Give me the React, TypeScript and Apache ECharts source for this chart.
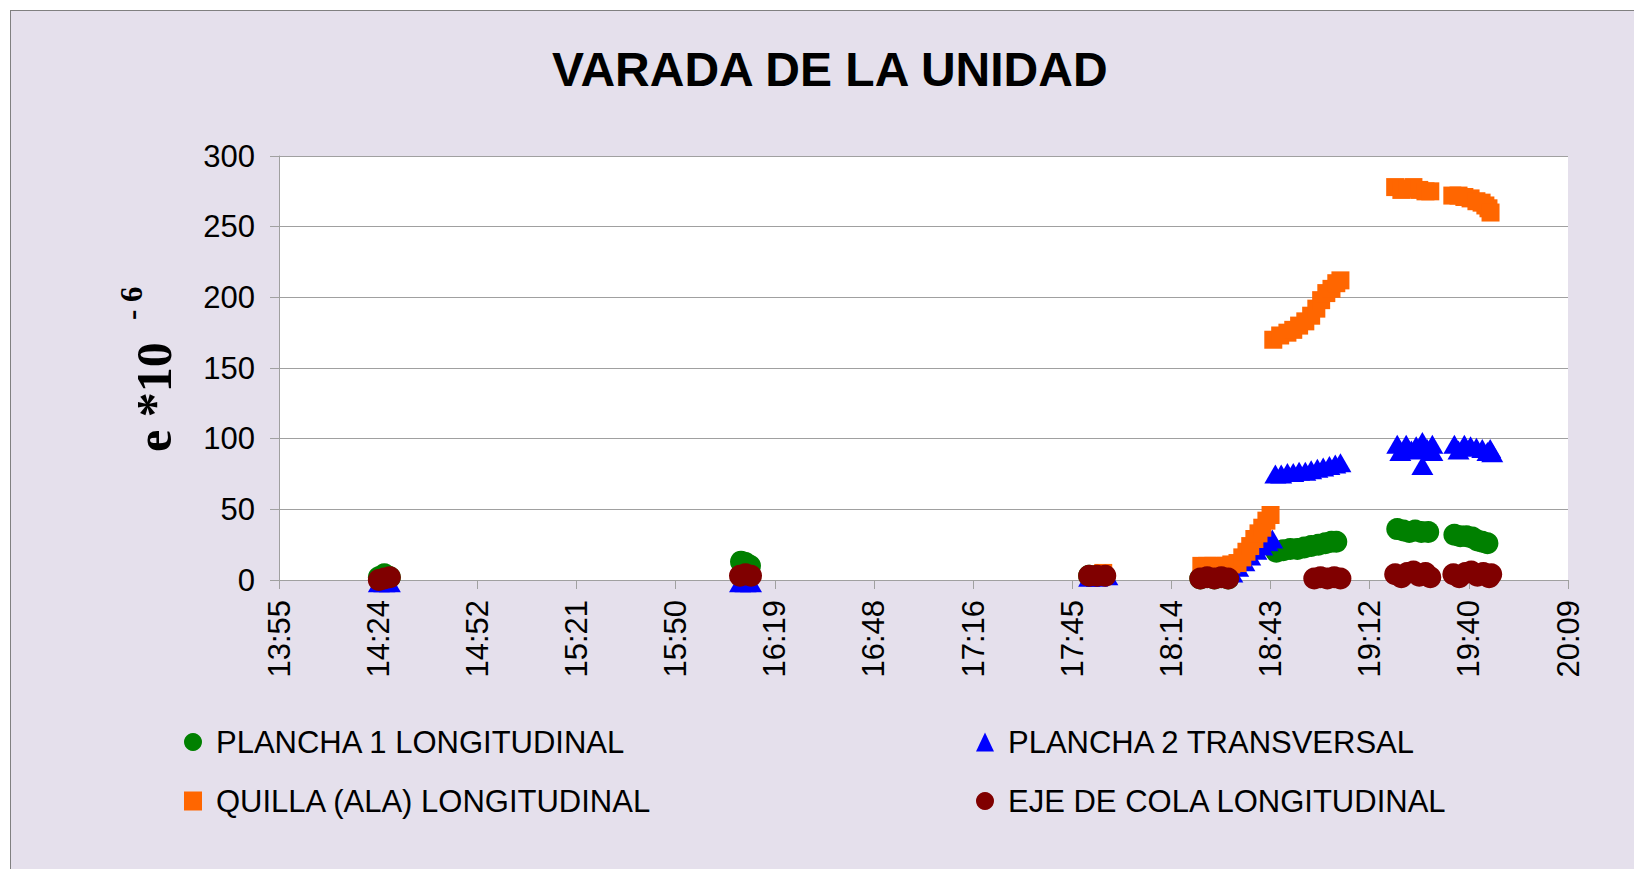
import React, { useEffect, useRef } from "react";
import * as echarts from "echarts";

const TITLE = "VARADA DE LA UNIDAD";
const SERIES_NAMES = [
  "PLANCHA 1 LONGITUDINAL",
  "PLANCHA 2 TRANSVERSAL",
  "QUILLA (ALA) LONGITUDINAL",
  "EJE DE COLA LONGITUDINAL",
];
const AXIS_NAME_MAIN = "e *10";
const AXIS_NAME_SUP = "- 6";

// time axis in minutes after midnight (Excel ticks every 0.02 day = 28.8 min)
const X_MIN = 835.2; // 13:55
const X_MAX = 1209.6; // 20:09
const X_STEP = 28.8;
const Y_MIN = 0;
const Y_MAX = 300;
const Y_STEP = 50;

// PLANCHA 1 LONGITUDINAL (minutes, value)
const plancha1Times = [
  864.2, 865.8, 867.4,
  969.4, 970.7, 972.0,
  1070.5, 1072.8,
  1102.8, 1106.9, 1110.9,
  1124.9, 1126.9, 1128.9, 1131.0, 1133.0, 1135.0, 1137.1, 1139.1, 1140.9, 1142.3,
  1160.0, 1161.8, 1163.5, 1165.2, 1167.0, 1169.0,
  1176.6, 1178.3, 1180.1, 1181.8, 1183.3, 1184.7, 1186.2,
];
const plancha1Values = [
  2, 4, 2,
  13, 12, 10,
  3, 3,
  1, 1, 1,
  20, 21, 22, 22, 23, 24, 25, 26, 27, 27,
  36, 35, 34, 35, 34, 34,
  32, 31, 31, 30, 28, 27, 26,
];

// PLANCHA 2 TRANSVERSAL
const plancha2Times = [
  864.2, 865.8, 867.4,
  969.1, 970.7, 972.3,
  1070.5, 1072.8, 1075.8,
  1108.6, 1110.3, 1112.1, 1113.8, 1115.6, 1117.3, 1119.1, 1120.8, 1122.3, 1123.7,
  1124.6, 1126.3, 1128.1, 1129.8, 1131.5, 1133.3, 1135.0, 1136.8, 1138.5, 1140.3, 1142.0, 1143.5,
  1160.0, 1160.9, 1162.6, 1164.1, 1165.5, 1167.3, 1167.3, 1168.7, 1170.2, 1170.2,
  1176.6, 1177.8, 1179.5, 1181.3, 1183.0, 1184.7, 1186.2, 1187.0, 1187.6,
];
const plancha2Values = [
  -2, -2, -2,
  -2, -2, -2,
  2, 2, 3,
  1, 3, 5, 9, 13, 17, 21, 24, 27, 29,
  75, 75, 76, 76, 77, 77, 78, 79, 80, 81, 82, 83,
  96, 91, 96, 92, 95, 98, 81, 93, 96, 91,
  96, 92, 96, 95, 94, 93, 91, 93, 90,
];

// QUILLA (ALA) LONGITUDINAL
const quillaTimes = [
  1074.6,
  1103.1, 1104.8, 1106.6, 1108.3, 1110.1, 1111.8, 1113.6, 1115.0, 1116.2, 1117.3, 1118.5, 1119.7, 1120.8, 1122.0, 1123.2,
  1124.0, 1126.0, 1128.1, 1129.8, 1131.5, 1133.3, 1135.0, 1136.5, 1137.9, 1139.4, 1140.9, 1142.3, 1143.5,
  1159.4, 1161.2, 1162.9, 1164.7, 1166.4, 1168.2, 1169.6,
  1176.0, 1177.8, 1179.5, 1181.3, 1183.0, 1184.5, 1185.6, 1186.5, 1187.1,
];
const quillaValues = [
  5,
  10, 10, 10, 10, 10, 11, 12, 16, 20, 24, 29, 33, 37, 42, 46,
  170, 173, 175, 177, 180, 183, 187, 192, 198, 203, 206, 210, 212,
  278, 276, 277, 278, 276, 275, 275,
  272, 272, 271, 270, 268, 267, 265, 263, 260,
];

// EJE DE COLA LONGITUDINAL
const ejeTimes = [
  864.2, 865.8, 867.4,
  969.1, 970.7, 972.3,
  1070.5, 1072.8, 1075.2,
  1102.8, 1104.8, 1106.9, 1108.9, 1110.9,
  1135.9, 1137.7, 1139.7, 1141.7, 1143.5,
  1159.4, 1161.2, 1162.9, 1164.7, 1166.4, 1168.2, 1169.6,
  1176.3, 1178.0, 1179.8, 1181.5, 1183.3, 1185.0, 1186.7, 1187.3,
];
const ejeValues = [
  0, 1, 2,
  3, 4, 3,
  3, 3, 3,
  1, 2, 1, 2, 1,
  1, 2, 1, 2, 1,
  4, 2, 5, 6, 3, 5, 2,
  4, 2, 5, 6, 3, 5, 2, 4,
];

const COLORS = ["#008000", "#0000FF", "#FF6600", "#800000"];
const SYMBOLS = ["circle", "triangle", "rect", "circle"];
const SYMBOL_SIZES: (number | number[])[] = [22, [22, 19], 18, 22];

const FONT = "Liberation Sans";
const GRIDC = "#A0A0A0";

const pairs = (t: number[], v: number[]) => t.map((x, i) => [x, v[i]]);

const fmtTime = (v: number) => {
  const m = Math.floor(v + 1e-4);
  const h = Math.floor(m / 60);
  const mm = m % 60;
  return `${h}:${mm.toString().padStart(2, "0")}`;
};

export default function App() {
  const ref = useRef<HTMLDivElement>(null);
  useEffect(() => {
    document.body.style.margin = "0";
    document.body.style.overflow = "hidden";
    const chart = echarts.init(ref.current!, undefined, { renderer: "svg" });
    const datas = [
      pairs(plancha1Times, plancha1Values),
      pairs(plancha2Times, plancha2Values),
      pairs(quillaTimes, quillaValues),
      pairs(ejeTimes, ejeValues),
    ];
    const legendText = {
      fontSize: 31,
      fontFamily: FONT,
      color: "#000",
      lineHeight: 32,
      padding: [0, 0, 0, 9],
    };
    const legendBase = {
      orient: "vertical",
      top: 726,
      padding: 0,
      itemWidth: 18,
      itemHeight: 19,
      itemGap: 27,
      selectedMode: false,
      textStyle: legendText,
    };
    chart.setOption({
      animation: false,
      backgroundColor: "transparent",
      title: {
        text: TITLE,
        left: 552,
        top: 45,
        padding: 0,
        textStyle: { fontSize: 48, fontWeight: "bold", fontFamily: FONT, color: "#000" },
      },
      grid: {
        left: 279,
        right: 66,
        top: 156,
        bottom: 289,
        show: true,
        backgroundColor: "#FFFFFF",
        borderWidth: 0,
      },
      legend: [
        { ...legendBase, left: 184, data: [SERIES_NAMES[0], SERIES_NAMES[2]] },
        { ...legendBase, left: 976, data: [SERIES_NAMES[1], SERIES_NAMES[3]] },
      ],
      xAxis: {
        type: "value",
        min: X_MIN,
        max: X_MAX,
        interval: X_STEP,
        axisLine: { show: true, lineStyle: { color: GRIDC, width: 1 } },
        axisTick: { show: true, length: 9, lineStyle: { color: GRIDC, width: 1 } },
        axisLabel: {
          rotate: 90,
          margin: 20,
          fontSize: 31,
          fontFamily: FONT,
          color: "#000",
          formatter: fmtTime,
          showMinLabel: true,
          showMaxLabel: true,
        },
        splitLine: { show: false },
      },
      yAxis: {
        type: "value",
        min: Y_MIN,
        max: Y_MAX,
        interval: Y_STEP,
        axisLine: { show: true, lineStyle: { color: GRIDC, width: 1 } },
        axisTick: { show: true, length: 9, lineStyle: { color: GRIDC, width: 1 } },
        axisLabel: { margin: 24, fontSize: 31, fontFamily: FONT, color: "#000" },
        splitLine: { show: true, lineStyle: { color: GRIDC, width: 1 } },
      },
      graphic: [
        {
          type: "text",
          x: 154,
          y: 452,
          rotation: Math.PI / 2,
          style: {
            text: AXIS_NAME_MAIN,
            font: 'bold 50px "Liberation Serif"',
            fill: "#000",
            align: "left",
            textAlign: "left",
            verticalAlign: "middle",
            textVerticalAlign: "middle",
          },
        },
        {
          type: "text",
          x: 131,
          y: 320,
          rotation: Math.PI / 2,
          style: {
            text: AXIS_NAME_SUP,
            font: 'bold 31px "Liberation Serif"',
            fill: "#000",
            align: "left",
            textAlign: "left",
            verticalAlign: "middle",
            textVerticalAlign: "middle",
          },
        },
      ],
      series: SERIES_NAMES.map((name, i) => ({
        name,
        type: "scatter",
        data: datas[i],
        symbol: SYMBOLS[i],
        symbolSize: SYMBOL_SIZES[i],
        clip: false,
        itemStyle: { color: COLORS[i], opacity: 1 },
        emphasis: { disabled: true },
      })),
    });
    return () => chart.dispose();
  }, []);
  return (
    <div style={{ position: "relative", width: 1634, height: 869, background: "#FFFFFF", overflow: "hidden" }}>
      <div
        style={{
          position: "absolute",
          left: 10,
          top: 10,
          width: 1640,
          height: 870,
          background: "#E5E0EC",
          borderLeft: "1px solid #808080",
          borderTop: "1px solid #808080",
        }}
      />
      <div ref={ref} style={{ position: "absolute", left: 0, top: 0, width: 1634, height: 869 }} />
    </div>
  );
}
